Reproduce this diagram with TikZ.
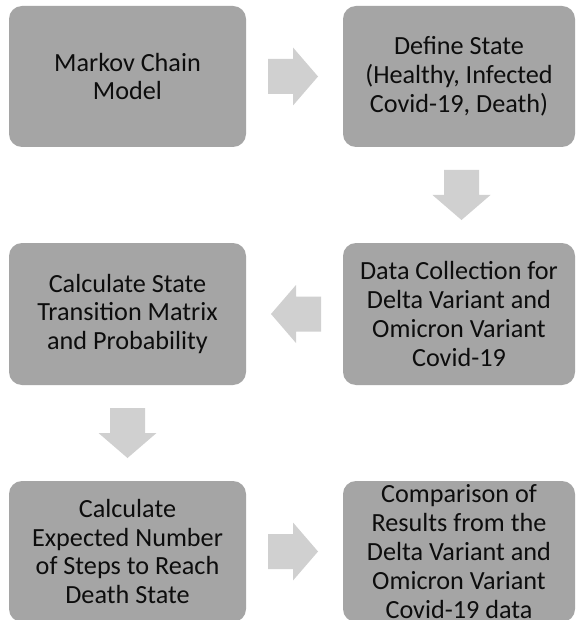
\documentclass[tikz,border=0pt]{standalone}
\usepackage{fontspec}
\setmainfont{Carlito}
\usetikzlibrary{calc}
\definecolor{boxgray}{HTML}{A5A5A5}
\definecolor{arrowgray}{HTML}{D0D0D0}
\definecolor{txt}{HTML}{0D0D0D}
\tikzset{
  stepbox/.style={rectangle, rounded corners=13pt, fill=boxgray, draw=none,
    text=txt, align=center, inner sep=0pt,
    font=\fontsize{26.2pt}{28.8pt}\selectfont},
  blockarrow/.pic={\fill[arrowgray] (-25,-17.5) -- (0,-17.5) -- (0,-29) -- (25,0) -- (0,29) -- (0,17.5) -- (-25,17.5) -- cycle;}
}
\begin{document}
\begin{tikzpicture}[x=1pt,y=-1pt]
\clip (0,0) rectangle (576,620);
\fill[white] (0,0) rectangle (576,620);
\node[stepbox, minimum width=237pt, minimum height=141pt] (b1) at (127.5,76.5) {Markov Chain\\Model};
\node[stepbox, minimum width=232pt, minimum height=141pt] (b2) at (459,76.5) {Define State\\(Healthy, Infected\\Covid-19, Death)};
\node[stepbox, minimum width=232pt, minimum height=142pt] (b3) at (459,314) {Data Collection for\\Delta Variant and\\Omicron Variant\\Covid-19};
\node[stepbox, minimum width=237pt, minimum height=142pt] (b4) at (127.5,314) {Calculate State\\Transition Matrix\\and Probability};
\node[stepbox, minimum width=237pt, minimum height=141pt] (b5) at (127.5,551.5) {Calculate\\Expected Number\\of Steps to Reach\\Death State};
\node[stepbox, minimum width=232pt, minimum height=141pt] (b6) at (459,551.5) {Comparison of\\Results from the\\Delta Variant and\\Omicron Variant\\Covid-19 data};
\pic at ($(b1.east)!0.5!(b2.west)+(-1.5,0)$) {blockarrow};
\pic[rotate=-90] at ($(b2.south)!0.5!(b3.north)+(2.5,0)$) {blockarrow};
\pic[rotate=180] at ($(b3.west)!0.5!(b4.east)+(1.5,0)$) {blockarrow};
\pic[rotate=-90] at ($(b4.south)!0.5!(b5.north)$) {blockarrow};
\pic at ($(b5.east)!0.5!(b6.west)+(-1.5,0)$) {blockarrow};
\end{tikzpicture}
\end{document}
